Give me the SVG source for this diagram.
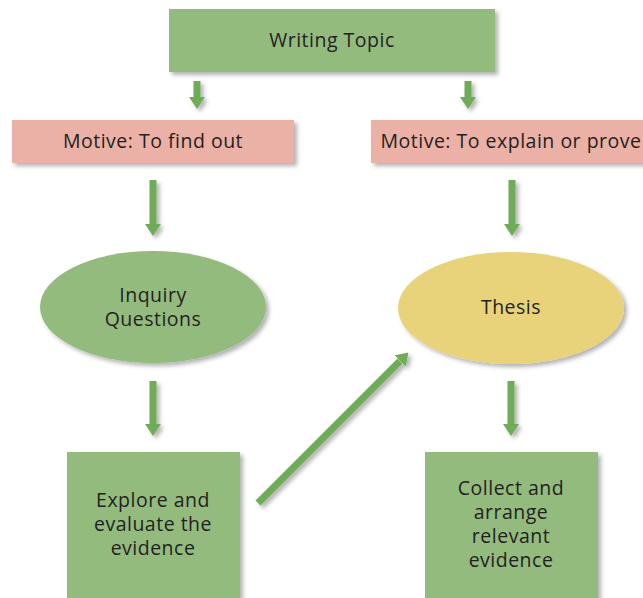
<svg xmlns="http://www.w3.org/2000/svg" width="643" height="598" viewBox="0 0 643 598">
  <style>
    .lbl { font-family: "Open Sans", "Liberation Sans", sans-serif; font-size: 19.5px; letter-spacing: 0.5px; fill: #231f20; text-anchor: middle; }
    .green { fill: #93bb7e; filter: url(#shadow); }
    .pink { fill: #ebb1a6; filter: url(#shadow); }
    .yellow { fill: #e8d37a; filter: url(#shadow); }
    .conn { stroke: #6fab58; stroke-width: 7; fill: none; marker-end: url(#head); }
  </style>
  <defs>
    <filter id="shadow" x="-20%" y="-20%" width="150%" height="150%">
      <feDropShadow dx="3" dy="3" stdDeviation="2" flood-color="#000" flood-opacity="0.3"/>
    </filter>
    <marker id="head" markerUnits="userSpaceOnUse" markerWidth="12" markerHeight="16" viewBox="0 0 12 16" refX="0" refY="8" orient="auto">
      <path d="M0,0 L12,8 L0,16 Z" fill="#6fab58"/>
    </marker>
  </defs>
  <rect width="643" height="598" fill="#ffffff"/>

  <!-- connectors: the shadow sits on the group so straight vertical lines keep it -->
  <g id="connectors" filter="url(#shadow)">
    <line class="conn" x1="197" y1="81" x2="197" y2="97"/>
    <line class="conn" x1="468" y1="81" x2="468" y2="97"/>
    <line class="conn" x1="153" y1="180" x2="153" y2="224"/>
    <line class="conn" x1="512" y1="180" x2="512" y2="224"/>
    <line class="conn" x1="153" y1="381" x2="153" y2="424"/>
    <line class="conn" x1="511" y1="381" x2="511" y2="424"/>
    <line class="conn" x1="258" y1="503" x2="400" y2="361"/>
  </g>

  <g id="writing-topic">
    <rect class="green" x="169" y="9" width="326" height="63"/>
    <text class="lbl" x="332" y="47">Writing Topic</text>
  </g>

  <g id="motive-find-out">
    <rect class="pink" x="12" y="120" width="282" height="43"/>
    <text class="lbl" x="153" y="148">Motive: To find out</text>
  </g>

  <g id="motive-explain">
    <rect class="pink" x="371" y="120" width="280" height="43"/>
    <text class="lbl" x="511" y="148">Motive: To explain or prove</text>
  </g>

  <g id="inquiry-questions">
    <ellipse class="green" cx="153" cy="307" rx="113" ry="56"/>
    <text class="lbl" x="153" y="302">Inquiry</text>
    <text class="lbl" x="153" y="326">Questions</text>
  </g>

  <g id="thesis">
    <ellipse class="yellow" cx="511" cy="308" rx="113" ry="56"/>
    <text class="lbl" x="511" y="314">Thesis</text>
  </g>

  <g id="explore-evidence">
    <rect class="green" x="67" y="452" width="173" height="160"/>
    <text class="lbl" x="153" y="507">Explore and</text>
    <text class="lbl" x="153" y="531">evaluate the</text>
    <text class="lbl" x="153" y="555">evidence</text>
  </g>

  <g id="collect-evidence">
    <rect class="green" x="425" y="452" width="173" height="160"/>
    <text class="lbl" x="511" y="495">Collect and</text>
    <text class="lbl" x="511" y="519">arrange</text>
    <text class="lbl" x="511" y="543">relevant</text>
    <text class="lbl" x="511" y="567">evidence</text>
  </g>
</svg>
